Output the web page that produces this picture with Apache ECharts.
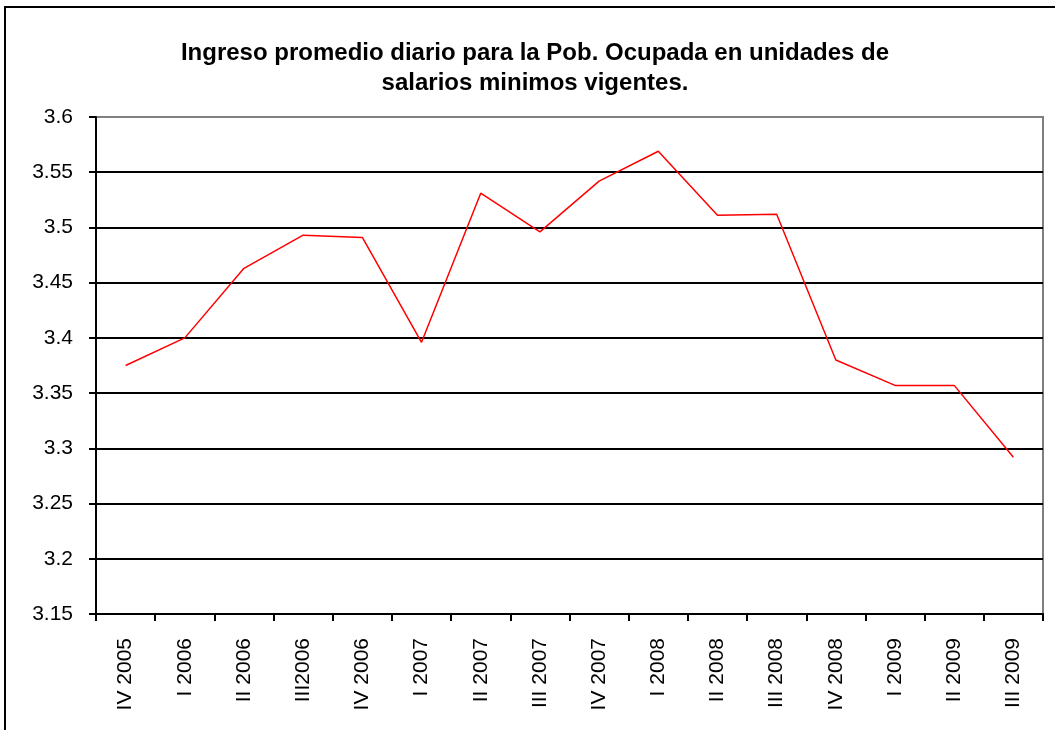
<!DOCTYPE html>
<html>
<head>
<meta charset="utf-8">
<script src="https://cdn.jsdelivr.net/npm/echarts@6/dist/echarts.min.js"></script>
<style>
  html, body { margin: 0; padding: 0; background: #fff; }
  #chart { width: 1055px; height: 730px; }
</style>
</head>
<body>
<div id="chart"></div>
<script>
const titleText = "Ingreso promedio diario para la Pob. Ocupada en unidades de\nsalarios minimos vigentes.";
const quarters = [
  "IV 2005", "I 2006", "II 2006", "III2006", "IV 2006", "I 2007", "II 2007", "III 2007",
  "IV 2007", "I 2008", "II 2008", "III 2008", "IV 2008", "I 2009", "II 2009", "III 2009"
];
const ingreso = [
  3.375, 3.400, 3.463, 3.493, 3.491, 3.396, 3.531, 3.496,
  3.542, 3.569, 3.511, 3.512, 3.380, 3.357, 3.357, 3.292
];
const yMin = 3.15;
const yMax = 3.6;
const yStep = 0.05;

const chart = echarts.init(document.getElementById("chart"));

// black gridlines, the top one is grey like the plot frame
const gridColors = [];
for (let i = 0; i < 9; i++) gridColors.push("#000");
gridColors.push("#808080");

chart.setOption({
  animation: false,
  textStyle: { fontFamily: "Liberation Sans, Arial, sans-serif" },
  title: {
    text: titleText,
    left: 530,
    textAlign: "center",
    top: 33,
    textStyle: {
      fontSize: 24,
      fontWeight: "bold",
      color: "#000",
      lineHeight: 30
    }
  },
  graphic: [
    {
      type: "rect",
      shape: { x: 5, y: 7, width: 1080, height: 760 },
      style: { fill: null, stroke: "#000", lineWidth: 2 },
      silent: true
    }
  ],
  grid: {
    left: 96,
    right: 12,
    top: 117,
    bottom: 116,
    show: true,
    borderColor: "#808080",
    borderWidth: 2,
    backgroundColor: "transparent"
  },
  xAxis: {
    type: "category",
    data: quarters,
    boundaryGap: true,
    axisLine: { lineStyle: { color: "#000", width: 2 } },
    axisTick: { show: true, length: 7, lineStyle: { color: "#000", width: 2 } },
    axisLabel: {
      interval: 0,
      rotate: 90,
      margin: 24,
      fontSize: 21,
      color: "#000"
    },
    splitLine: { show: false }
  },
  yAxis: {
    type: "value",
    min: yMin,
    max: yMax,
    interval: yStep,
    axisLine: { show: true, lineStyle: { color: "#000", width: 2 } },
    axisTick: { show: true, length: 7, lineStyle: { color: "#000", width: 2 } },
    axisLabel: { margin: 23, fontSize: 21, color: "#000" },
    splitLine: { show: true, lineStyle: { color: gridColors, width: 2 } }
  },
  series: [
    {
      type: "line",
      data: ingreso,
      symbol: "none",
      lineStyle: { color: "#ff0000", width: 1.5 },
      z: 5
    }
  ]
});
</script>
</body>
</html>
